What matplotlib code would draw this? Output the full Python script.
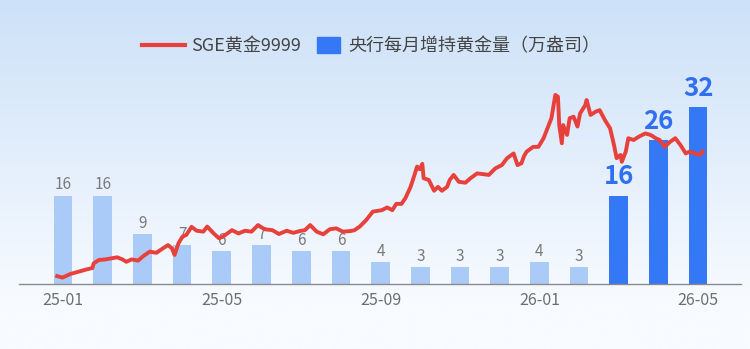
"""SGE黄金9999 走势 vs 央行每月增持黄金量。"""

import numpy as np
import pandas as pd
import matplotlib
matplotlib.use("Agg")
import matplotlib.pyplot as plt
from matplotlib.lines import Line2D
from matplotlib.patches import Patch

plt.rcParams["font.family"] = ["Noto Sans CJK SC", "DejaVu Sans"]

# ── 数据 ──
months = ["25-01", "25-02", "25-03", "25-04", "25-05", "25-06", "25-07", "25-08",
          "25-09", "25-10", "25-11", "25-12", "26-01", "26-02", "26-03", "26-04", "26-05"]
pboc_buy = [16, 16, 9, 7, 6, 7, 6, 6, 4, 3, 3, 3, 4, 3, 16, 26, 32]
highlight = [False] * 14 + [True] * 3
tick_months = ["25-01", "25-05", "25-09", "26-01", "26-05"]

gold_dates = [
    "2025-01-02", "2025-01-06", "2025-01-12", "2025-01-20", "2025-01-25", "2025-01-29", "2025-01-30",
    "2025-02-03", "2025-02-08", "2025-02-13", "2025-02-17", "2025-02-21", "2025-02-24", "2025-02-28",
    "2025-03-05", "2025-03-09", "2025-03-14", "2025-03-19", "2025-03-24", "2025-03-28", "2025-03-31",
    "2025-04-02", "2025-04-05", "2025-04-08", "2025-04-11", "2025-04-15", "2025-04-19", "2025-04-24",
    "2025-04-27", "2025-05-02", "2025-05-06", "2025-05-09", "2025-05-16", "2025-05-21", "2025-05-26",
    "2025-05-31", "2025-06-05", "2025-06-10", "2025-06-16", "2025-06-21", "2025-06-27", "2025-07-02",
    "2025-07-07", "2025-07-11", "2025-07-15", "2025-07-20", "2025-07-25", "2025-07-30", "2025-08-04",
    "2025-08-09", "2025-08-15", "2025-08-18", "2025-08-22", "2025-08-27", "2025-09-01", "2025-09-08",
    "2025-09-12", "2025-09-16", "2025-09-19", "2025-09-23", "2025-09-26", "2025-09-30", "2025-10-03",
    "2025-10-05", "2025-10-07", "2025-10-09", "2025-10-10", "2025-10-14", "2025-10-18", "2025-10-21",
    "2025-10-24", "2025-10-28", "2025-10-30", "2025-11-02", "2025-11-06", "2025-11-11", "2025-11-15",
    "2025-11-20", "2025-11-24", "2025-11-29", "2025-12-04", "2025-12-09", "2025-12-13", "2025-12-18",
    "2025-12-21", "2025-12-24", "2025-12-26", "2025-12-28", "2026-01-02", "2026-01-06", "2026-01-10",
    "2026-01-14", "2026-01-16", "2026-01-19", "2026-01-21", "2026-01-22", "2026-01-24", "2026-01-25",
    "2026-01-28", "2026-01-30", "2026-02-02", "2026-02-05", "2026-02-07", "2026-02-11", "2026-02-12",
    "2026-02-15", "2026-02-19", "2026-02-22", "2026-02-26", "2026-03-02", "2026-03-05", "2026-03-07",
    "2026-03-10", "2026-03-11", "2026-03-14", "2026-03-16", "2026-03-20", "2026-03-24", "2026-03-29",
    "2026-04-02", "2026-04-06", "2026-04-09", "2026-04-13", "2026-04-17", "2026-04-21", "2026-04-25",
    "2026-04-29", "2026-05-02", "2026-05-06", "2026-05-10", "2026-05-12",
]
gold_price = [
    623, 618, 630, 640, 646, 650, 666, 677, 679, 683,
    686, 679, 671, 679, 675, 690, 705, 701, 716, 727,
    716, 694, 733, 755, 761, 788, 775, 772, 789, 766,
    750, 755, 777, 766, 775, 772, 794, 780, 777, 764,
    775, 768, 774, 777, 794, 772, 763, 780, 783, 772,
    774, 777, 789, 811, 839, 844, 853, 844, 865, 865,
    884, 922, 962, 990, 981, 999, 951, 945, 909, 922,
    909, 922, 945, 962, 939, 936, 951, 967, 965, 962,
    984, 995, 1018, 1034, 995, 1001, 1025, 1040, 1056, 1056,
    1085, 1129, 1152, 1230, 1224, 1129, 1068, 1129, 1096, 1152,
    1157, 1124, 1168, 1196, 1213, 1163, 1174, 1179, 1146, 1118,
    1062, 1018, 1029, 1006, 1040, 1085, 1079, 1090, 1101, 1096,
    1085, 1079, 1056, 1073, 1085, 1062, 1034, 1040, 1034, 1029, 1040,
]

LIGHT = "#aacbf7"
DARK = "#3478f5"
RED = "#e8403a"

fig = plt.figure(figsize=(7.5, 3.49), dpi=100)

# ── 背景渐变 ──
bg = fig.add_axes([0, 0, 1, 1], zorder=-10)
grad = np.linspace(0, 1, 256).reshape(-1, 1)
top_c = np.array([0xcd, 0xe1, 0xf8]) / 255
bot_c = np.array([0xf8, 0xfb, 0xff]) / 255
img = top_c + (bot_c - top_c) * np.clip(grad * 1.15, 0, 1)[..., None]
bg.imshow(img.reshape(256, 1, 3), aspect="auto", extent=[0, 1, 0, 1])
bg.axis("off")

ax = fig.add_axes([19 / 750, 65 / 349, 722 / 750, 204 / 349])
ax.patch.set_alpha(0)
x = np.arange(len(months))
colors = [DARK if h else LIGHT for h in highlight]
bars = ax.bar(x, pboc_buy, width=0.47, color=colors, zorder=2)
for b, v, h in zip(bars, pboc_buy, highlight):
    if h:
        ax.annotate(str(v), (b.get_x() + b.get_width() / 2, v), xytext=(0, 4),
                    textcoords="offset points", ha="center", va="bottom",
                    fontsize=18.5, fontweight="bold", color="#2f6ff0")
    else:
        ax.annotate(str(v), (b.get_x() + b.get_width() / 2, v), xytext=(0, 1.5),
                    textcoords="offset points", ha="center", va="bottom",
                    fontsize=11, color="#7a7a7a")
ax.set_ylim(0, 36.9)
ax.set_xlim(-1.11, 17.08)
ax.set_xticks([months.index(m) for m in tick_months])
ax.set_xticklabels(tick_months, fontsize=11.5, color="#6e6e6e")
ax.tick_params(axis="x", length=0, pad=6)
ax.set_yticks([])
for s in ["top", "right", "left"]:
    ax.spines[s].set_visible(False)
ax.spines["bottom"].set_color("#8a8a8a")
ax.spines["bottom"].set_linewidth(1)

# ── 金价折线（次轴）──
ax2 = ax.twinx()
ax2.patch.set_alpha(0)
d = pd.to_datetime(gold_dates)
pos = (d - pd.Timestamp("2025-01-01")).days.values / 30.44 - 0.18
ax2.plot(pos, gold_price, color=RED, lw=2.8, solid_joinstyle="round", zorder=3)
ax2.set_ylim(596.6, 1280)
ax2.set_yticks([])
for s in ax2.spines.values():
    s.set_visible(False)

# ── 图例（两段，分别控制图形尺寸）──
ly = 1 - 46 / 349
fig.legend([Line2D([], [], color=RED, lw=3)], ["SGE黄金9999"],
           loc="center left", bbox_to_anchor=(142 / 750, ly), frameon=False,
           fontsize=13, handlelength=2.4, handletextpad=0.3,
           borderpad=0, borderaxespad=0, labelcolor="#444444")
fig.legend([Patch(color=DARK)], ["央行每月增持黄金量（万盎司）"],
           loc="center left", bbox_to_anchor=(317 / 750, ly), frameon=False,
           fontsize=13, handlelength=1.27, handleheight=1.0, handletextpad=0.44,
           borderpad=0, borderaxespad=0, labelcolor="#444444")

plt.savefig("out.png", dpi=100)
plt.close()
